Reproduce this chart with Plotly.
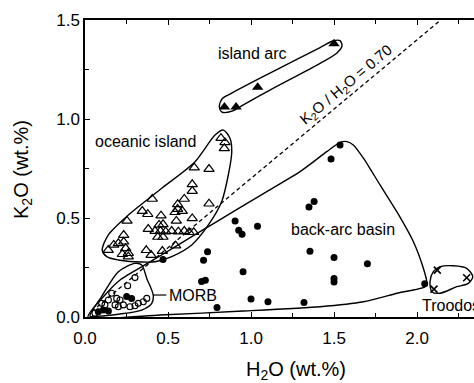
import plotly.graph_objects as go

# ---------------- data ----------------
# island arc (filled triangles)
arc_x = [0.84, 0.91, 1.04, 1.50]
arc_y = [1.06, 1.06, 1.16, 1.38]

# oceanic island (open triangles)
oib_x = [0.819, 0.843, 0.839, 0.658, 0.747, 0.646, 0.646, 0.405, 0.598, 0.558,
         0.747, 0.345, 0.378, 0.558, 0.586, 0.542, 0.458, 0.646, 0.253, 0.550,
         0.446, 0.470, 0.381, 0.422, 0.454, 0.486, 0.522, 0.562, 0.598, 0.627,
         0.655, 0.233, 0.438, 0.470, 0.233, 0.201, 0.173, 0.140, 0.245, 0.261,
         0.225, 0.369, 0.466, 0.546, 0.398, 0.261]
oib_y = [0.903, 0.882, 0.852, 0.754, 0.747, 0.670, 0.636, 0.596, 0.596, 0.569,
         0.572, 0.535, 0.519, 0.545, 0.535, 0.529, 0.512, 0.498, 0.485, 0.485,
         0.465, 0.468, 0.444, 0.434, 0.434, 0.431, 0.434, 0.431, 0.434, 0.428,
         0.428, 0.414, 0.404, 0.404, 0.380, 0.372, 0.364, 0.338, 0.347, 0.322,
         0.317, 0.337, 0.333, 0.360, 0.313, 0.305]

# back-arc basin (filled circles)
bab_x = [1.536, 1.482, 1.380, 1.349, 0.904, 1.039, 0.926, 0.946, 0.738, 0.714,
         1.355, 1.500, 0.952, 1.500, 1.500, 0.725, 0.702, 1.000, 1.102, 1.319,
         0.795, 1.701, 2.046, 0.470,
         0.251, 0.281, 0.110, 0.080, 0.141]
bab_y = [0.869, 0.798, 0.583, 0.556, 0.485, 0.458, 0.438, 0.418, 0.330, 0.286,
         0.332, 0.300, 0.229, 0.194, 0.177, 0.185, 0.179, 0.091, 0.077, 0.073,
         0.048, 0.269, 0.168, 0.290,
         0.103, 0.094, 0.035, 0.027, 0.030]

# MORB (open circles)
morb_x = [0.301, 0.257, 0.161, 0.191, 0.211, 0.321, 0.351, 0.372, 0.231, 0.181,
          0.120, 0.060, 0.201, 0.271, 0.301, 0.141, 0.100]
morb_y = [0.199, 0.158, 0.120, 0.094, 0.086, 0.069, 0.077, 0.094, 0.061, 0.061,
          0.061, 0.019, 0.052, 0.052, 0.057, 0.086, 0.069]

# Troodos (crosses)
troo_x = [2.122, 2.299, 2.102]
troo_y = [0.237, 0.198, 0.141]

# field outlines
env_arc_x = [0.809, 0.825, 0.873, 1.114, 1.416, 1.496, 1.536, 1.548, 1.516, 1.416, 1.114, 0.964, 0.886, 0.825, 0.809]
env_arc_y = [1.062, 1.101, 1.126, 1.232, 1.361, 1.395, 1.396, 1.369, 1.332, 1.281, 1.146, 1.076, 1.040, 1.035, 1.062]

env_oib_x = [0.104, 0.140, 0.261, 0.462, 0.663, 0.783, 0.833, 0.873, 0.884, 0.863, 0.823, 0.743, 0.643, 0.522, 0.422, 0.301, 0.201, 0.131, 0.104]
env_oib_y = [0.338, 0.414, 0.515, 0.650, 0.784, 0.919, 0.944, 0.903, 0.835, 0.717, 0.582, 0.465, 0.364, 0.305, 0.279, 0.279, 0.288, 0.305, 0.338]

env_morb_x = [0.030, 0.100, 0.201, 0.301, 0.342, 0.372, 0.411, 0.402, 0.342, 0.201, 0.080, 0.030]
env_morb_y = [0.005, 0.103, 0.229, 0.271, 0.263, 0.195, 0.111, 0.069, 0.035, 0.014, 0.004, 0.005]

env_bab_x = [0.018, 0.120, 0.211, 0.392, 0.542, 0.693, 0.893, 1.095, 1.295, 1.456, 1.536, 1.578, 1.616, 1.677,
             1.777, 1.878, 1.978, 2.038, 2.058, 2.048, 1.880, 1.677, 1.416, 0.952, 0.452, 0.018]
env_bab_y = [0.000, 0.111, 0.187, 0.278, 0.354, 0.431, 0.532, 0.633, 0.734, 0.835, 0.882, 0.886, 0.869, 0.802,
             0.667, 0.532, 0.380, 0.246, 0.178, 0.153, 0.120, 0.077, 0.052, 0.030, 0.010, 0.000]

env_troo_x = [2.078, 2.098, 2.139, 2.219, 2.299, 2.336, 2.309, 2.239, 2.139, 2.089, 2.078]
env_troo_y = [0.178, 0.229, 0.254, 0.259, 0.246, 0.204, 0.170, 0.153, 0.120, 0.128, 0.178]

ratio = 0.70
ratio_x = [0.04, 1.5 / ratio]
ratio_y = [ratio * v for v in ratio_x]

morb_leader_x = [0.411, 0.49]
morb_leader_y = [0.111, 0.111]

xticks = [0.0, 0.5, 1.0, 1.5, 2.0]
yticks = [0.0, 0.5, 1.0, 1.5]

FONT = "Liberation Sans, Arial, Helvetica, sans-serif"

fig = go.Figure()

def outline(x, y, smooth=0.8):
    fig.add_trace(go.Scatter(x=x, y=y, mode="lines",
                             line=dict(color="black", width=1.4, shape="spline", smoothing=smooth),
                             hoverinfo="skip", showlegend=False))

outline(env_arc_x, env_arc_y)
outline(env_oib_x, env_oib_y)
outline(env_morb_x, env_morb_y)
outline(env_bab_x, env_bab_y, 0.6)
outline(env_troo_x, env_troo_y)

fig.add_trace(go.Scatter(x=ratio_x, y=ratio_y, mode="lines",
                         line=dict(color="black", width=1.3, dash="4px,3px"), showlegend=False))
fig.add_trace(go.Scatter(x=morb_leader_x, y=morb_leader_y, mode="lines",
                         line=dict(color="black", width=1.2), showlegend=False))

fig.add_trace(go.Scatter(x=oib_x, y=oib_y, mode="markers",
                         marker=dict(symbol="triangle-up-open", size=9, color="black", line=dict(width=1.2)),
                         showlegend=False))
fig.add_trace(go.Scatter(x=arc_x, y=arc_y, mode="markers",
                         marker=dict(symbol="triangle-up", size=10, color="black"), showlegend=False))
fig.add_trace(go.Scatter(x=morb_x, y=morb_y, mode="markers",
                         marker=dict(symbol="circle-open", size=6, color="black", line=dict(width=1.1)),
                         showlegend=False))
fig.add_trace(go.Scatter(x=bab_x, y=bab_y, mode="markers",
                         marker=dict(symbol="circle", size=7, color="black"), showlegend=False))
fig.add_trace(go.Scatter(x=troo_x, y=troo_y, mode="markers",
                         marker=dict(symbol="x-thin-open", size=7, color="black", line=dict(width=1.6)),
                         showlegend=False))

ann = [
    dict(x=1.006, y=1.333, text="island arc", showarrow=False, font=dict(size=16)),
    dict(x=0.367, y=0.884, text="oceanic island", showarrow=False, font=dict(size=16)),
    dict(x=1.554, y=0.444, text="back-arc basin", showarrow=False, font=dict(size=16)),
    dict(x=0.494, y=0.111, text="MORB", showarrow=False, xanchor="left", font=dict(size=16)),
    dict(x=2.018, y=0.056, text="Troodos", showarrow=False, xanchor="left", font=dict(size=16)),
    dict(x=1.578, y=1.172, text="K<sub>2</sub>O / H<sub>2</sub>O = 0.70", showarrow=False,
         textangle=-40, font=dict(size=15)),
    dict(xref="paper", yref="paper", x=0, y=0.495, xshift=-62, xanchor="center", yanchor="middle",
         text="K<sub>2</sub>O (wt.%)", showarrow=False, textangle=-90, font=dict(size=20)),
    dict(xref="paper", yref="paper", x=0.542, y=0, yshift=-53, xanchor="center", yanchor="middle",
         text="H<sub>2</sub>O (wt.%)", showarrow=False, font=dict(size=20)),
]

fig.update_layout(
    width=474, height=383,
    margin=dict(l=85, r=0, t=20, b=66),
    paper_bgcolor="white", plot_bgcolor="white",
    font=dict(family=FONT, color="black"),
    annotations=ann,
    showlegend=False,
)
fig.update_xaxes(range=[0, 2.343], tickvals=xticks, ticktext=[f"{v:.1f}" for v in xticks],
                 ticks="inside", ticklen=5, tickwidth=1.2, tickcolor="black",
                 showline=True, linecolor="black", linewidth=1.5, mirror="ticks",
                 showgrid=False, zeroline=False, tickfont=dict(size=17), ticklabelstandoff=5,
                 minor=dict(tickvals=[0.25, 0.75, 1.25, 1.75, 2.25], ticks="inside", ticklen=4,
                            tickcolor="black", showgrid=False))
fig.update_yaxes(range=[0, 1.5], tickvals=yticks, ticktext=[f"{v:.1f}" for v in yticks],
                 ticks="inside", ticklen=5, tickwidth=1.2, tickcolor="black",
                 showline=True, linecolor="black", linewidth=1.5, mirror=False,
                 showgrid=False, zeroline=False, tickfont=dict(size=17),
                 minor=dict(tickvals=[0.25, 0.75, 1.25], ticks="inside", ticklen=4,
                            tickcolor="black", showgrid=False))

fig.write_html("out.html")
